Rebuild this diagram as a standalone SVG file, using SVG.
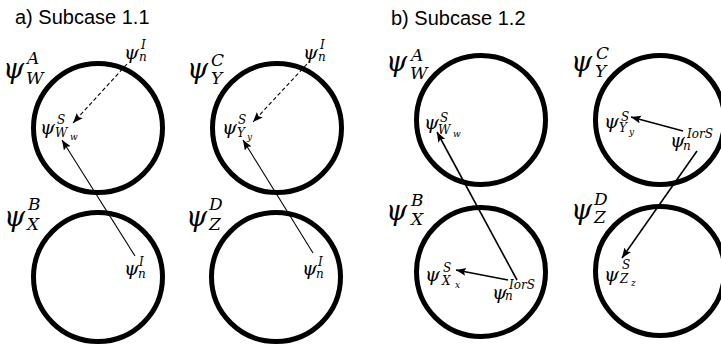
<svg xmlns="http://www.w3.org/2000/svg" width="721" height="345" viewBox="0 0 721 345">
<style>
.c{fill:none;stroke:#000;stroke-width:5}
.t{font-family:"Liberation Sans",Arial,sans-serif;font-size:20px;fill:#000}
.m{font-family:"DejaVu Serif","Liberation Serif",serif;font-style:italic;fill:#000}
.L{font-size:27px}.M{font-size:17px}.P{font-size:19px}.S{font-size:12px}.X{font-size:9px}
.a{fill:none;stroke:#000;stroke-width:1.1;marker-end:url(#ah)}
.b{fill:none;stroke:#000;stroke-width:1.6;marker-end:url(#ah)}
.d{stroke-dasharray:4 2.5}
</style>
<defs>
<marker id="ah" markerUnits="userSpaceOnUse" markerWidth="12" markerHeight="10" refX="10" refY="4" orient="auto">
<path d="M0,0 L10,4 L0,8 L2,4 z" fill="#000"/>
</marker>
</defs>
<rect width="721" height="345" fill="#fff"/>
<text class="t" x="15" y="24">a) Subcase 1.1</text>
<text class="t" x="391" y="25">b) Subcase 1.2</text>

<g id="a-A"><circle class="c" cx="98" cy="128" r="64.5"/>
<text class="m L" x="3" y="78">ψ</text><text class="m M" x="27" y="64">A</text><text class="m M" x="26" y="84">W</text></g>
<g id="a-B"><circle class="c" cx="98" cy="277" r="64.5"/>
<text class="m L" x="4" y="226">ψ</text><text class="m M" x="28" y="210">B</text><text class="m M" x="27" y="230">X</text></g>
<g id="a-C"><circle class="c" cx="277" cy="128" r="64.5"/>
<text class="m L" x="187" y="78">ψ</text><text class="m M" x="211" y="66">C</text><text class="m M" x="211" y="84">Y</text></g>
<g id="a-D"><circle class="c" cx="276" cy="277" r="64.5"/>
<text class="m L" x="186" y="226">ψ</text><text class="m M" x="209" y="210">D</text><text class="m M" x="209" y="230">Z</text></g>

<g id="a-In1"><text class="m P" x="124" y="59">ψ</text><text class="m S" x="141" y="49">I</text><text class="m S" x="139" y="61">n</text></g>
<g id="a-In2"><text class="m P" x="303" y="59">ψ</text><text class="m S" x="320" y="49">I</text><text class="m S" x="318" y="61">n</text></g>
<g id="a-In3"><text class="m P" x="124" y="275">ψ</text><text class="m S" x="139" y="266">I</text><text class="m S" x="138" y="278">n</text></g>
<g id="a-In4"><text class="m P" x="302" y="275">ψ</text><text class="m S" x="318" y="266">I</text><text class="m S" x="316" y="278">n</text></g>
<g id="a-SW"><text class="m P" x="40" y="134">ψ</text><text class="m S" x="57" y="124">S</text><text class="m S" x="55" y="137">W</text><text class="m X" x="70" y="140">w</text></g>
<g id="a-SY"><text class="m P" x="222" y="134">ψ</text><text class="m S" x="238" y="124">S</text><text class="m S" x="237" y="137">Y</text><text class="m X" x="247" y="140">y</text></g>

<g id="b-A"><circle class="c" cx="481" cy="120" r="64.5"/>
<text class="m L" x="386" y="71">ψ</text><text class="m M" x="411" y="61">A</text><text class="m M" x="410" y="79">W</text></g>
<g id="b-B"><circle class="c" cx="481" cy="272" r="64.5"/>
<text class="m L" x="386" y="220">ψ</text><text class="m M" x="411" y="206">B</text><text class="m M" x="411" y="225">X</text></g>
<g id="b-C"><circle class="c" cx="660" cy="120" r="64.5"/>
<text class="m L" x="571" y="71">ψ</text><text class="m M" x="596" y="59">C</text><text class="m M" x="595" y="77">Y</text></g>
<g id="b-D"><circle class="c" cx="660" cy="271" r="64.5"/>
<text class="m L" x="571" y="219">ψ</text><text class="m M" x="594" y="205">D</text><text class="m M" x="594" y="223">Z</text></g>

<g id="b-SW"><text class="m P" x="424" y="129">ψ</text><text class="m S" x="440" y="122">S</text><text class="m S" x="438" y="134">W</text><text class="m X" x="453" y="137">w</text></g>
<g id="b-SX"><text class="m P" x="425" y="281">ψ</text><text class="m S" x="443" y="272">S</text><text class="m S" x="442" y="285">X</text><text class="m X" x="455" y="288">x</text></g>
<g id="b-SY"><text class="m P" x="604" y="128">ψ</text><text class="m S" x="621" y="121">S</text><text class="m S" x="619" y="132">Y</text><text class="m X" x="629" y="135">y</text></g>
<g id="b-SZ"><text class="m P" x="604" y="281">ψ</text><text class="m S" x="622" y="269">S</text><text class="m S" x="620" y="283">Z</text><text class="m X" x="631" y="286">z</text></g>
<g id="b-IS1"><text class="m P" x="492" y="299">ψ</text><text class="m S" x="509" y="289">IorS</text><text class="m S" x="505" y="300">n</text></g>
<g id="b-IS2"><text class="m P" x="670" y="147">ψ</text><text class="m S" x="687" y="138">IorS</text><text class="m S" x="683" y="150">n</text></g>

<g id="connectors">
<line class="a d" x1="127" y1="64" x2="73" y2="123"/>
<line class="a" x1="135" y1="256" x2="62" y2="140"/>
<line class="a d" x1="307" y1="64" x2="253" y2="122"/>
<line class="a" x1="313" y1="253" x2="243" y2="140"/>
<line class="b" x1="517" y1="280" x2="437" y2="132"/>
<line class="b" x1="508" y1="280" x2="456" y2="270"/>
<line class="b" x1="683" y1="131" x2="631" y2="117"/>
<line class="b" x1="697" y1="151" x2="622" y2="258"/>
</g>
</svg>
